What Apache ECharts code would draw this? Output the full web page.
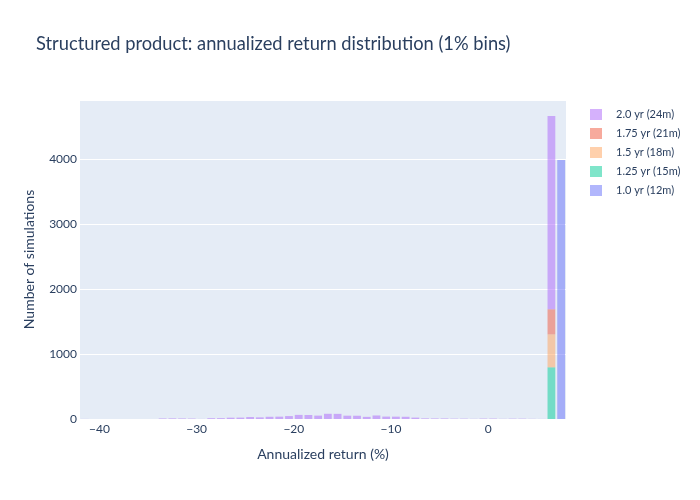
<!DOCTYPE html>
<html>
<head>
<meta charset="utf-8">
<script src="https://cdn.jsdelivr.net/npm/echarts@6/dist/echarts.min.js"></script>
<style>
  html, body { margin: 0; padding: 0; background: #fff; }
  #chart { width: 700px; height: 500px; }
</style>
</head>
<body>
<div id="chart"></div>
<script>
// left edge of each 1% bin
const binStarts = [
  -42, -41, -40, -39, -38, -37, -36, -35, -34, -33,
  -32, -31, -30, -29, -28, -27, -26, -25, -24, -23,
  -22, -21, -20, -19, -18, -17, -16, -15, -14, -13,
  -12, -11, -10, -9, -8, -7, -6, -5, -4, -3,
  -2, -1, 0, 1, 2, 3, 4, 5, 6, 7
];

// counts per bin, same order as binStarts
const counts12m = [
  0, 0, 0, 0, 0, 0, 0, 0, 0, 0,
  0, 0, 0, 0, 0, 0, 0, 0, 0, 0,
  0, 0, 0, 0, 0, 0, 0, 0, 0, 0,
  0, 0, 0, 0, 0, 0, 0, 0, 0, 0,
  0, 0, 0, 0, 0, 0, 0, 0, 0, 3985
];
const counts15m = [
  0, 0, 0, 0, 0, 0, 0, 0, 0, 0,
  0, 0, 0, 0, 0, 0, 0, 0, 0, 0,
  0, 0, 0, 0, 0, 0, 0, 0, 0, 0,
  0, 0, 0, 0, 0, 0, 0, 0, 0, 0,
  0, 0, 0, 0, 0, 0, 0, 0, 795, 0
];
const counts18m = [
  0, 0, 0, 0, 0, 0, 0, 0, 0, 0,
  0, 0, 0, 0, 0, 0, 0, 0, 0, 0,
  0, 0, 0, 0, 0, 0, 0, 0, 0, 0,
  0, 0, 0, 0, 0, 0, 0, 0, 0, 0,
  0, 0, 0, 0, 0, 0, 0, 0, 508, 0
];
const counts21m = [
  0, 0, 0, 0, 0, 0, 0, 0, 0, 0,
  0, 0, 0, 0, 0, 0, 0, 0, 0, 0,
  0, 0, 0, 0, 0, 0, 0, 0, 0, 0,
  0, 0, 0, 0, 0, 0, 0, 0, 0, 0,
  0, 0, 0, 0, 0, 0, 0, 0, 385, 0
];
const counts24m = [
  1, 0, 0, 0, 0, 0, 0, 0, 8, 9,
  8, 6, 1, 12, 13, 20, 21, 30, 25, 34,
  36, 45, 63, 62, 52, 80, 79, 51, 50, 33,
  54, 37, 36, 34, 21, 9, 8, 8, 5, 5,
  2, 6, 6, 2, 5, 5, 2, 1, 2972, 0
];

const seriesNames = ["1.0 yr (12m)", "1.25 yr (15m)", "1.5 yr (18m)", "1.75 yr (21m)", "2.0 yr (24m)"];
const seriesCounts = [counts12m, counts15m, counts18m, counts21m, counts24m];
const seriesColors = [
  "rgba(99, 110, 250, 0.5)",
  "rgba(0, 204, 150, 0.5)",
  "rgba(255, 161, 90, 0.5)",
  "rgba(239, 85, 59, 0.5)",
  "rgba(171, 99, 250, 0.5)"
];

const xTicks = [-40, -30, -20, -10, 0];
const yTicks = [0, 1000, 2000, 3000, 4000];

const textColor = "#2a3f5f";
const fontFamily = "Lato, 'Open Sans', sans-serif";

const chart = echarts.init(document.getElementById("chart"));

// stack the series bin by bin
const running = binStarts.map(() => 0);
const series = seriesNames.map(function (name, s) {
  const data = binStarts.map(function (x, i) {
    const base = running[i];
    running[i] += seriesCounts[s][i];
    return [x, seriesCounts[s][i], base];
  });
  return {
    name: name,
    type: "custom",
    itemStyle: { color: seriesColors[s] },
    encode: { x: 0, y: 1 },
    renderItem: function (params, api) {
      const x0 = api.value(0);
      const n = api.value(1);
      const base = api.value(2);
      if (!n) return null;
      const p0 = api.coord([x0 + 0.1, base + n]);
      const p1 = api.coord([x0 + 0.9, base]);
      return {
        type: "rect",
        shape: { x: p0[0], y: p0[1], width: p1[0] - p0[0], height: p1[1] - p0[1] },
        style: api.style()
      };
    },
    data: data
  };
});

const option = {
  animation: false,
  backgroundColor: "#fff",
  textStyle: { fontFamily: fontFamily },
  title: {
    text: "Structured product: annualized return distribution (1% bins)",
    left: 31,
    top: 30,
    textStyle: { color: textColor, fontSize: 18.3, fontWeight: "normal", fontFamily: fontFamily }
  },
  legend: {
    orient: "vertical",
    left: 590,
    top: 109,
    padding: 0,
    itemWidth: 12,
    itemHeight: 11,
    itemGap: 8,
    icon: "rect",
    data: seriesNames.slice().reverse(),
    textStyle: { color: textColor, fontSize: 11, fontFamily: fontFamily, padding: [0, 0, 0, 9] }
  },
  grid: { left: 80, right: 134, top: 100, bottom: 81 },
  xAxis: {
    type: "value",
    min: -42,
    max: 8,
    name: "Annualized return (%)",
    nameLocation: "middle",
    nameGap: 28,
    nameTextStyle: { color: textColor, fontSize: 14, fontFamily: fontFamily },
    axisLine: { show: false },
    axisTick: { show: false },
    splitLine: { show: false },
    axisLabel: {
      color: textColor,
      fontSize: 12,
      margin: 4,
      showMinLabel: false,
      showMaxLabel: false,
      formatter: function (v) {
        return xTicks.indexOf(v) >= 0 ? String(v).replace("-", "\u2212") : "";
      }
    }
  },
  yAxis: {
    type: "value",
    min: 0,
    max: 4908,
    interval: 1000,
    name: "Number of simulations",
    nameLocation: "middle",
    nameGap: 44,
    nameTextStyle: { color: textColor, fontSize: 14, fontFamily: fontFamily },
    axisLine: { show: false },
    axisTick: { show: false },
    splitLine: { lineStyle: { color: "#fff", width: 1 } },
    splitArea: { show: false },
    axisLabel: {
      color: textColor,
      fontSize: 12,
      margin: 3,
      showMaxLabel: false,
      formatter: function (v) {
        return yTicks.indexOf(v) >= 0 ? String(v) : "";
      }
    }
  },
  graphic: [],
  series: series
};

chart.setOption(option);

// plot background like the reference
const topLeft = chart.convertToPixel({ gridIndex: 0 }, [-42, 4908]);
const bottomRight = chart.convertToPixel({ gridIndex: 0 }, [8, 0]);
chart.setOption({
  graphic: [{
    type: "rect",
    z: -10,
    silent: true,
    shape: {
      x: topLeft[0],
      y: topLeft[1],
      width: bottomRight[0] - topLeft[0],
      height: bottomRight[1] - topLeft[1]
    },
    style: { fill: "#e5ecf6" }
  }]
});
</script>
</body>
</html>
